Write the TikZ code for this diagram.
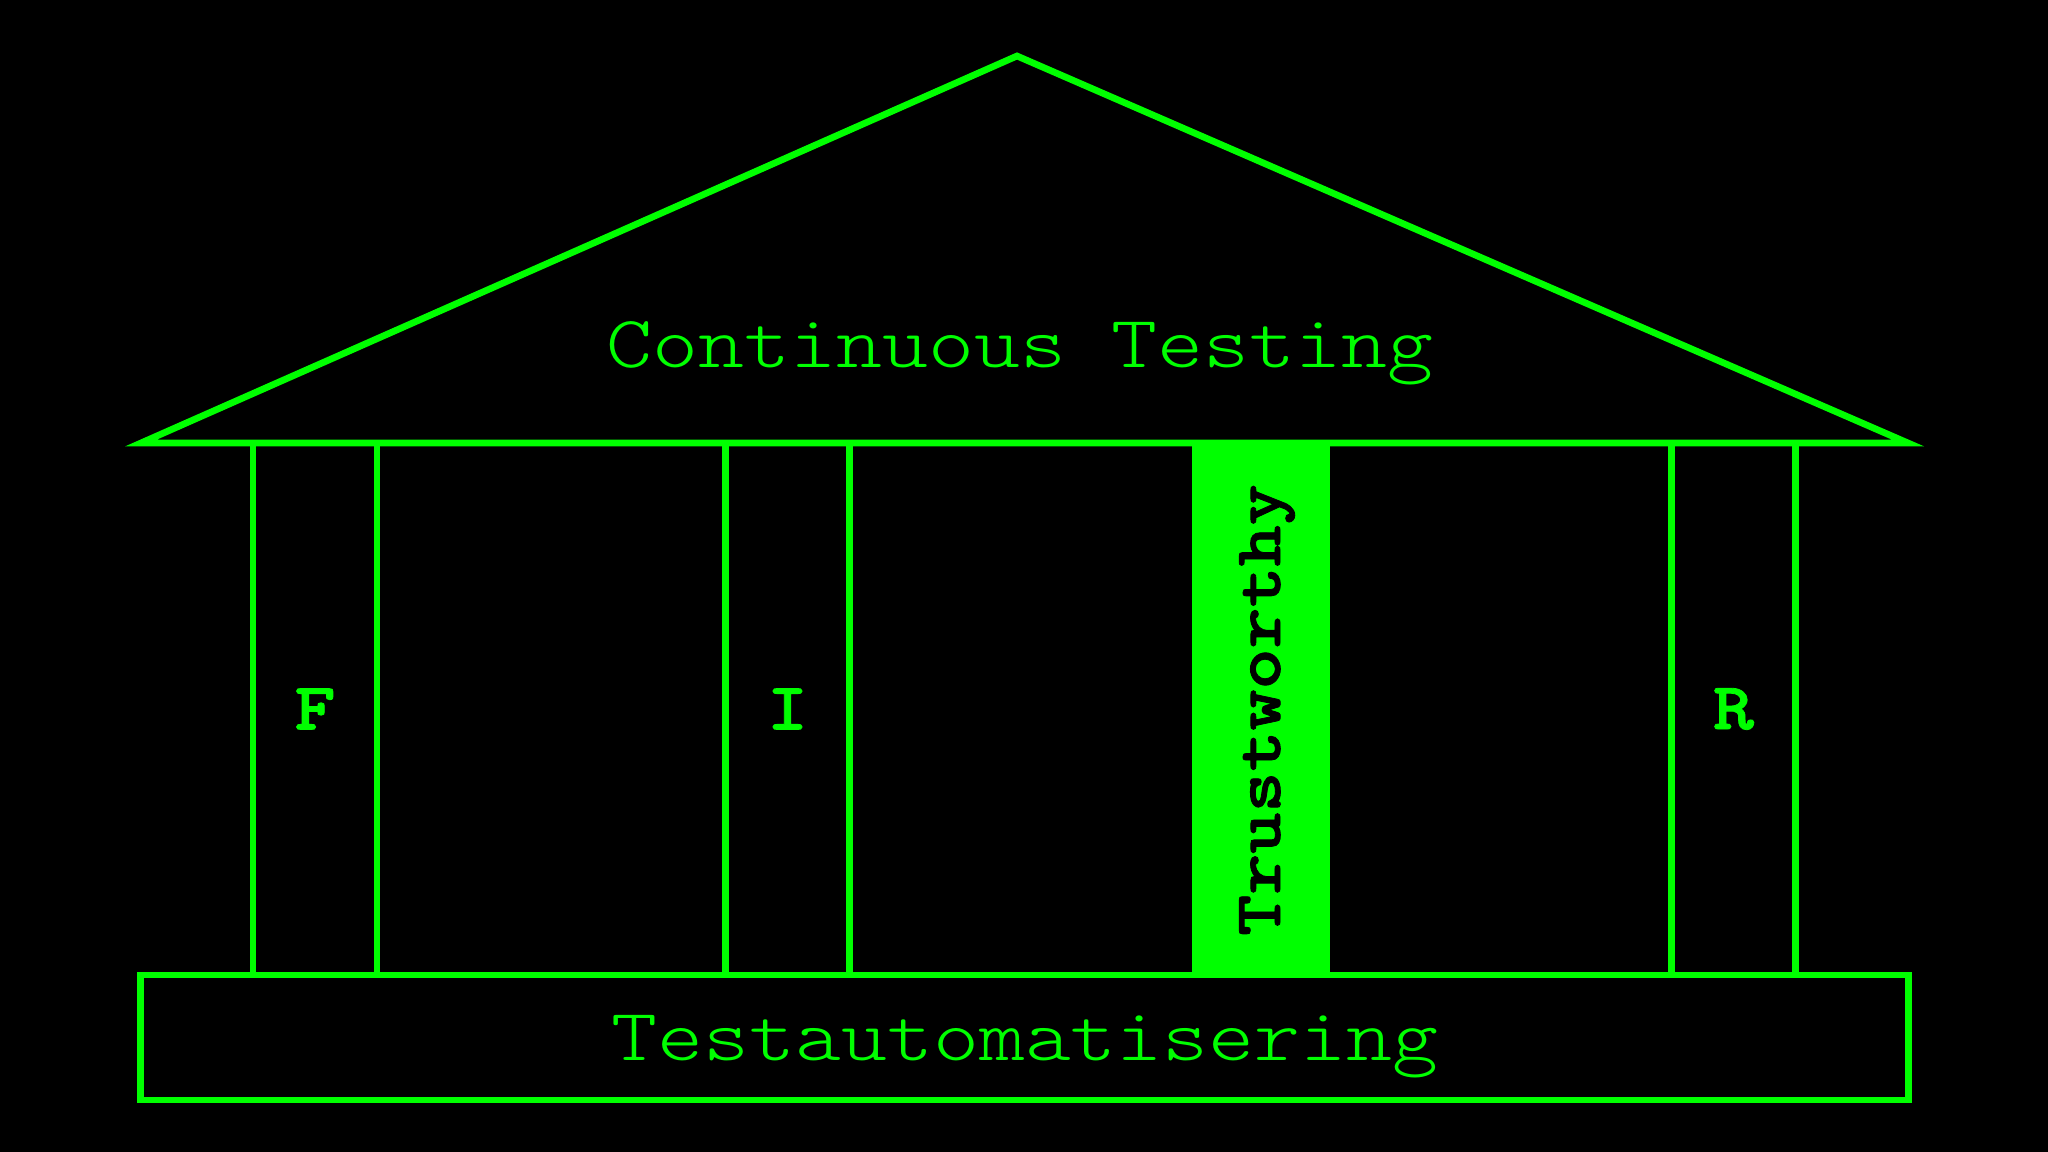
\documentclass[tikz,border=0pt]{standalone}
\usepackage{fontspec}
\newfontfamily\lmlight{lmmonolt10-regular}[Extension=.otf,FakeStretch=1.185]
\newfontfamily\lmheavy{lmmonolt10-bold}[Extension=.otf,FakeBold=1.2,FakeStretch=1.17]
\definecolor{neon}{RGB}{0,255,0}
\begin{document}
\begin{tikzpicture}[x=0.01cm,y=-0.01cm,
  line/.style={draw=neon,line width=1.9pt,line join=miter},
  pillar/.style={line,rectangle,inner sep=0pt,minimum width=1.24cm,minimum height=5.32cm,
    font=\lmheavy\fontsize{19}{22}\selectfont,text=neon},
  title/.style={font=\lmlight\fontsize{21}{24}\selectfont,text=neon,anchor=base,inner sep=0pt}]
\fill[black] (0,0) rectangle (2048,1152);
\useasboundingbox (0,0) rectangle (2048,1152);
% roof
\coordinate (rl) at (141,443);
\coordinate (apex) at (1017,56);
\coordinate (rr) at (1908,443);
\draw[line] (rl) -- (apex) -- (rr) -- cycle;
\node[title] (ct) at (1020,368) {Continuous Testing};
% pillars
\node[pillar] (pf) at (315,709) {F};
\node[pillar] (pi) at (787.5,709) {I};
\node[pillar] (pr) at (1733.5,709) {R};
\node[line,fill=neon,rectangle,inner sep=0pt,minimum width=1.32cm,minimum height=5.32cm] (pt) at (1261,709) {};
\node[font=\lmheavy\fontsize{19}{22}\selectfont,text=black,rotate=90,anchor=base,inner sep=0pt] (tw) at (1280,710) {Trustworthy};
% base
\node[line,rectangle,inner sep=0pt,minimum width=17.67cm,minimum height=1.25cm] (base) at (1024.5,1037.5) {};
\node[title] (ta) at (1025,1060) {Testautomatisering};
\end{tikzpicture}
\end{document}
